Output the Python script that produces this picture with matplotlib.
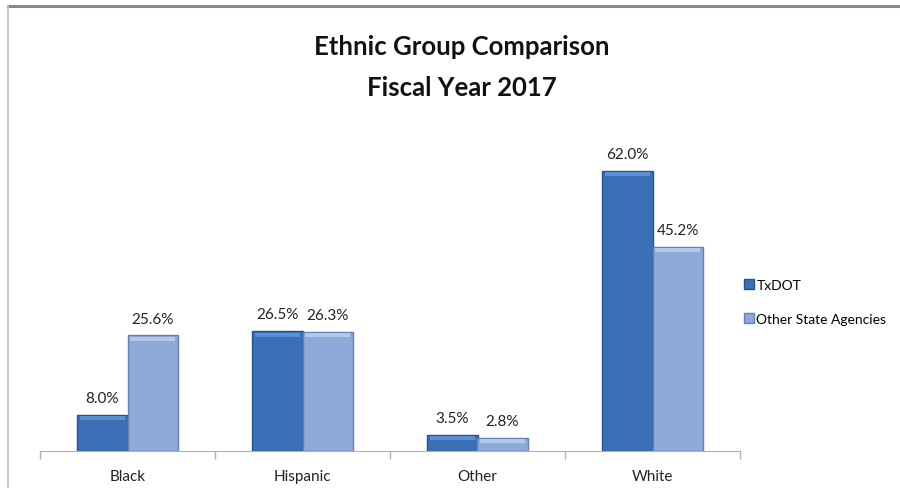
import matplotlib.pyplot as plt
from matplotlib.lines import Line2D
import numpy as np

categories = ['Black', 'Hispanic', 'Other', 'White']
txdot = [8.0, 26.5, 3.5, 62.0]
other_agencies = [25.6, 26.3, 2.8, 45.2]
series_names = ['TxDOT', 'Other State Agencies']

plt.rcParams['font.family'] = ['Lato', 'DejaVu Sans']

fig = plt.figure(figsize=(9, 4.89), dpi=100)
fig.patch.set_facecolor('white')

# frame around the chart (top and left edges show)
fig.add_artist(Line2D([8/900, 1], [1 - 7/489, 1 - 7/489], color='#8a8a8a', lw=2.2,
                      transform=fig.transFigure))
fig.add_artist(Line2D([8/900, 8/900], [0, 1 - 7/489], color='#c0c0c0', lw=1.2,
                      transform=fig.transFigure))

ax = fig.add_axes([40/900, 37/489, 700/900, 316/489])
x = np.arange(len(categories))
w = 0.286

dark, dark_edge = '#3b6fb6', '#24528f'
light, light_edge = '#8eaad9', '#6581b3'

b1 = ax.bar(x - w/2, txdot, w, color=dark, edgecolor=dark_edge, linewidth=1.0, zorder=2)
b2 = ax.bar(x + w/2, other_agencies, w, color=light, edgecolor=light_edge, linewidth=1.0, zorder=2)

# light bevel strip along the top of each bar
for bars, hi in ((b1, '#5b8fd3'), (b2, '#b3c8ea')):
    for r in bars:
        h = min(0.9, r.get_height() * 0.25)
        ax.bar(r.get_x() + r.get_width()/2, h, r.get_width() * 0.9,
               bottom=r.get_height() - h - 0.25, color=hi, linewidth=0, zorder=3)

for bars, vals in ((b1, txdot), (b2, other_agencies)):
    for r, v in zip(bars, vals):
        ax.text(r.get_x() + r.get_width()/2, v + 2.2, f'{v:.1f}%', ha='center',
                va='bottom', fontsize=11, color='#222222')

ax.set_xlim(-0.5, len(categories) - 0.5)
ax.set_ylim(0, 70)
ax.set_yticks([])
ax.set_xticks(x)
ax.set_xticklabels(categories, fontsize=11, color='#222222')
ax.tick_params(axis='x', which='major', length=0, pad=13)
ax.set_xticks(np.arange(-0.5, len(categories)), minor=True)
ax.tick_params(axis='x', which='minor', length=6, color='#b0b0b0', width=1)
for s in ('top', 'right', 'left'):
    ax.spines[s].set_visible(False)
ax.spines['bottom'].set_color('#b0b0b0')

fig.text(462/900, 1 - 47/489, 'Ethnic Group Comparison', ha='center', va='center',
         fontsize=18.5, fontweight='bold', color='#111111')
fig.text(462/900, 1 - 88/489, 'Fiscal Year 2017', ha='center', va='center',
         fontsize=18.5, fontweight='bold', color='#111111')

fig.legend([b1, b2], series_names, loc='center left', bbox_to_anchor=(744/900, 1 - 303/489),
           frameon=False, fontsize=10, handlelength=0.7, handleheight=0.7,
           handletextpad=0.2, labelspacing=1.6, borderpad=0, borderaxespad=0)

fig.savefig('out.png', dpi=100)
